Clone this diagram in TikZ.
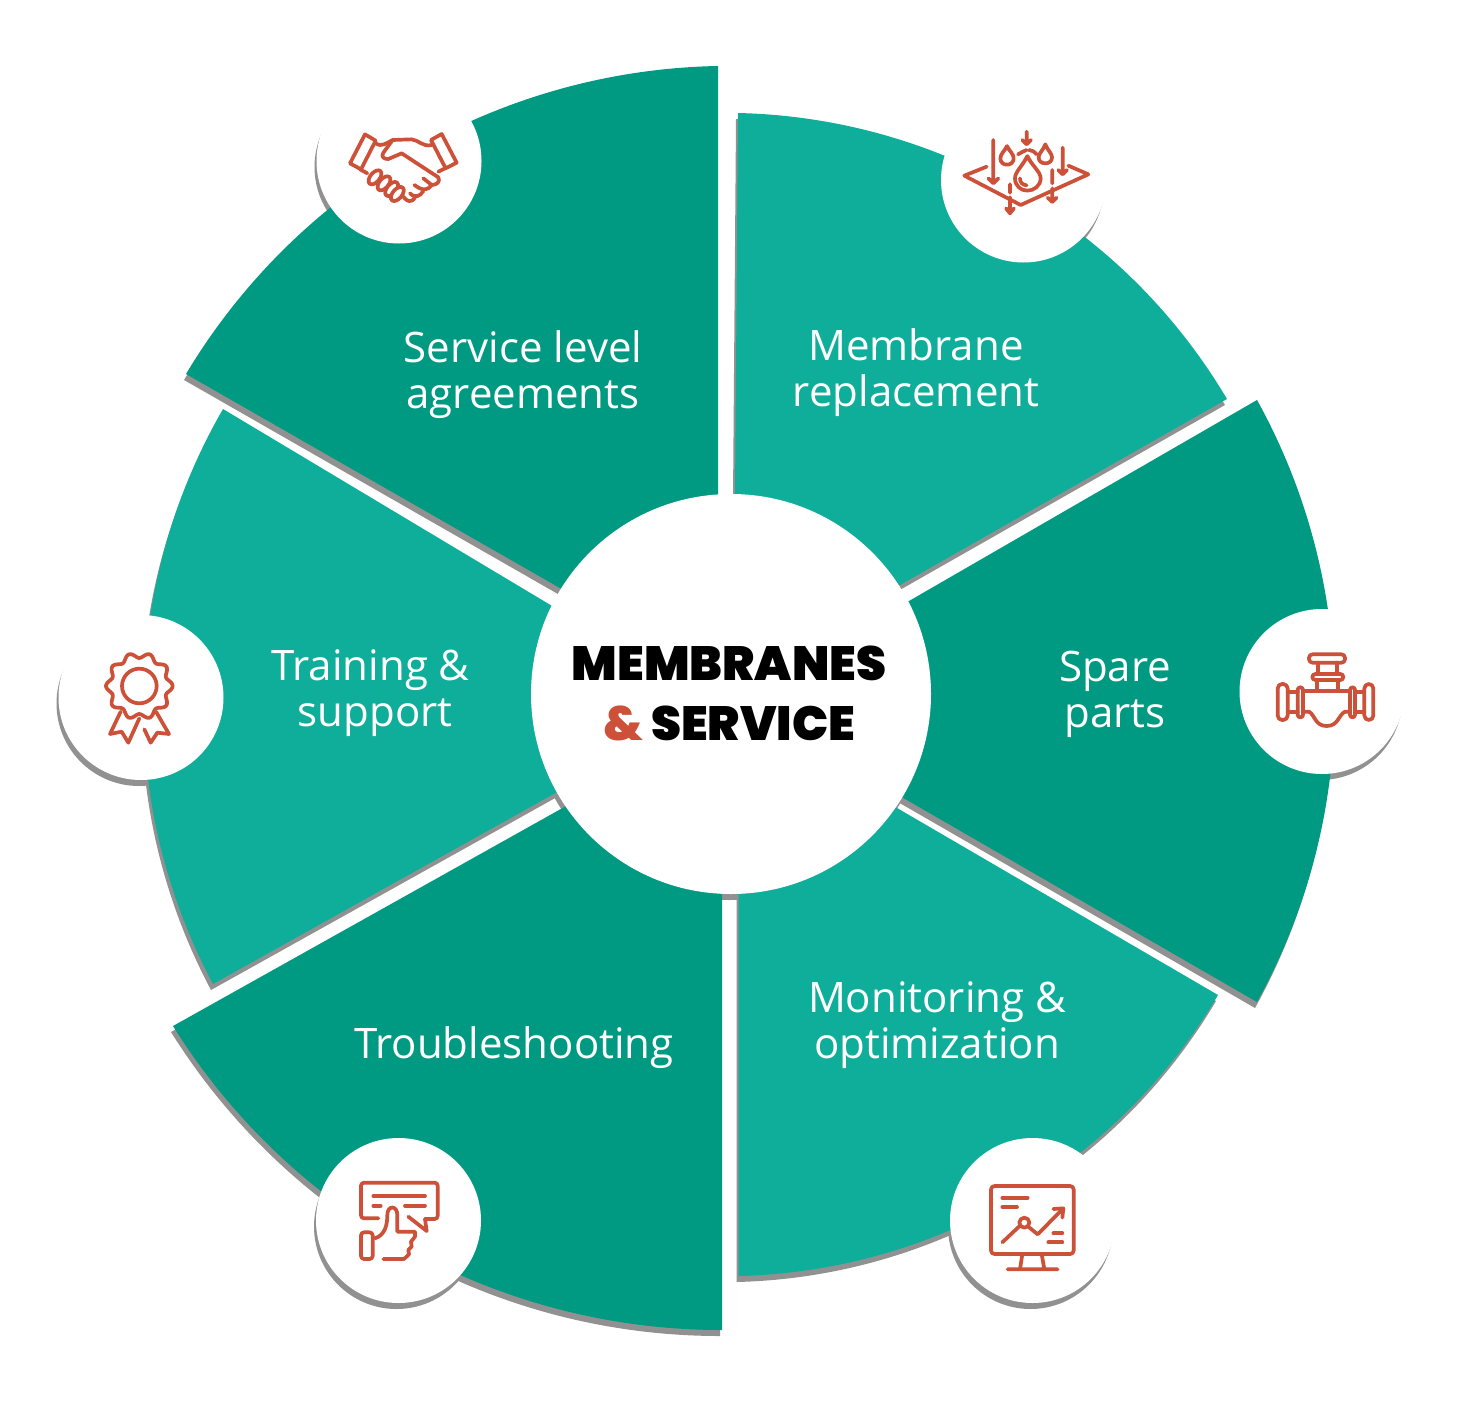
\documentclass[tikz,border=0pt]{standalone}
\usepackage{fontspec}
\setmainfont{Open Sans}
\newfontfamily\heavyfont{Poppins Black}
\definecolor{tealdark}{RGB}{0,153,129}
\definecolor{teallight}{RGB}{15,174,154}
\definecolor{iconred}{RGB}{204,81,56}
\definecolor{shadowgrey}{RGB}{145,145,145}
\tikzset{
  arcedge/.style={bend right=29,looseness=.91},
  shadowfill/.style={fill=shadowgrey,shift={(-2,6)}},
  badge/.style={circle,fill=white,minimum size=165pt,inner sep=0pt},
  badgeshadow/.style={circle,fill=shadowgrey,minimum size=165pt,inner sep=0pt},
  label/.style={text=white,font=\fontsize{42}{46}\selectfont,align=center,inner sep=0pt},
  icon/.style={scale=0.33333,draw=iconred,line width=3.7pt,line cap=round,line join=round},
}
\newcommand\segTR{(735,494) -- (738,113) to[arcedge] (1227,399) -- (887,592.4) -- cycle}
\newcommand\segR{(896,608.5) -- (1257,400) to[arcedge] (1257,1002) -- (889,789.7) -- cycle}
\newcommand\segBR{(884,800.4) -- (1218,995) to[arcedge] (738.5,1276) -- (738.5,880) -- cycle}
\newcommand\segBL{(722,880) -- (722,1330) to[arcedge] (173,1026) -- (576,800.5) -- cycle}
\newcommand\segL{(568,786) -- (213,984) to[arcedge] (223,409) -- (563,612.5) -- cycle}
\newcommand\segTL{(573,595.5) -- (186,374) to[arcedge] (718,66) -- (718,495) -- cycle}
\begin{document}
\begin{tikzpicture}[x=1pt,y=1pt,yscale=-1]
\useasboundingbox (0,0) rectangle (1464,1413);
% shadows
\node[badgeshadow] (sh1) at (397,167) {};
\node[badgeshadow] (sh2) at (1021.5,186) {};
\node[badgeshadow] (sh3) at (1320,697.5) {};
\node[badgeshadow] (sh4) at (139,703.5) {};
\node[badgeshadow] (sh5) at (396.5,1226.5) {};
\node[badgeshadow] (sh6) at (1030.5,1226.5) {};
\node[circle,fill=shadowgrey,minimum size=400pt,inner sep=0pt] (hubshadow) at (729,700) {};
\fill[shadowfill] \segTR;
\fill[shadowfill] \segR;
\fill[shadowfill] \segBR;
\fill[shadowfill] \segBL;
\fill[shadowfill] \segL;
\fill[shadowfill] \segTL;
% segments
\fill[teallight] \segTR;
\fill[tealdark] \segR;
\fill[teallight] \segBR;
\fill[tealdark] \segBL;
\fill[teallight] \segL;
\fill[tealdark] \segTL;
% badges and hub
\node[badge] (b1) at (399,161) {};
\node[badge] (b2) at (1023.5,180) {};
\node[badge] (b3) at (1322,691.5) {};
\node[badge] (b4) at (141,697.5) {};
\node[badge] (b5) at (398.5,1220.5) {};
\node[badge] (b6) at (1032.5,1220.5) {};
\node[circle,fill=white,minimum size=400pt,inner sep=0pt] (hub) at (731,694) {};
% hub text
\node[font=\heavyfont\fontsize{48}{60}\selectfont,align=center,inner sep=0pt] (title) at (729,693) {MEMBRANES\\\textcolor{iconred}{\&} SERVICE};
% labels
\node[label] (l1) at (916,373) {Membrane\\replacement};
\node[label] (l2) at (1115,694) {Spare\\parts};
\node[label] (l3) at (937,1025) {Monitoring \&\\optimization};
\node[label] (l4) at (514,1048) {Troubleshooting};
\node[label] (l5) at (370.5,693) {Training \&\\\hspace*{9pt}support};
\node[label] (l6) at (523,375) {Service level\\agreements};
% icon: droplets on membrane
\begin{scope}[shift={(930,100)},icon]
\draw (170,200)--(103,227)--(272,315)--(475,223)--(415,197);
\draw (190,120)--(190,248) (175,235)--(190,250)--(205,235);
\draw (290,95)--(290,132) (277,120)--(290,133)--(303,120);
\draw (398,143)--(398,222) (385,210)--(398,223)--(411,210);
\draw (240,253)--(240,278) (240,292)--(240,338) (228,325)--(240,340)--(252,325);
\draw (367,210)--(367,250) (367,265)--(367,305) (353,293)--(367,306)--(380,293);
\draw (231,138) .. controls (225,152) and (211,162) .. (211,175) .. controls (211,187) and (220,194) .. (231,194) .. controls (242,194) and (251,187) .. (251,175) .. controls (251,162) and (237,152) .. cycle;
\draw (346,133) .. controls (340,150) and (326,160) .. (326,172) .. controls (326,184) and (335,190) .. (346,190) .. controls (357,190) and (366,184) .. (366,172) .. controls (366,160) and (352,150) .. cycle;
\draw (292,168) .. controls (280,195) and (255,215) .. (255,235) .. controls (255,257) and (272,272) .. (292,272) .. controls (312,272) and (332,257) .. (332,235) .. controls (332,215) and (304,195) .. cycle;
\draw (270,235) .. controls (270,248) and (278,255) .. (290,256);
\draw (264,163) .. controls (275,157) and (283,152) .. (290,150) (297,150) .. controls (305,150) and (313,155) .. (320,163);
\end{scope}
% icon: handshake
\begin{scope}[shift={(310,90)},icon]
\draw (165,133)--(197,152)--(153,238)--(120,220)--cycle;
\draw (395,132)--(363,150)--(407,235)--(440,218)--cycle;
\draw (197,160) .. controls (215,172) and (228,160) .. (248,150) -- (305,148) .. controls (325,150) and (340,172) .. (365,165);
\draw (248,150) -- (220,188) .. controls (212,200) and (222,208) .. (235,207) -- (275,190) -- (385,262) .. controls (392,275) and (380,285) .. (365,285) -- (340,265);
\draw (405,235) -- (385,245) (365,285) .. controls (355,300) and (340,305) .. (313,285);
\draw (340,303) .. controls (330,320) and (315,325) .. (300,310);
\draw (315,322) .. controls (305,340) and (290,335) .. (280,320);
\draw (150,238) -- (172,250);
\foreach \p/\q in {195/262,222/280,245/297,262/312}{
  \draw[shift={(\p,\q)},rotate=-50,fill=white] (0,0) ellipse [x radius=25,y radius=14];
}
\end{scope}
% icon: valve
\begin{scope}[shift={(1235,600)},icon]
\draw[rounded corners=3.5pt] (222,163) rectangle (330,188);
\draw (250,188)--(250,222) (305,188)--(305,222);
\draw[rounded corners=3pt] (232,222) rectangle (325,240);
\draw (245,240)--(245,272) (310,240)--(310,272);
\draw (205,272)--(345,272);
\draw (205,335)--(222,335) .. controls (240,345) and (240,378) .. (275,378) .. controls (310,378) and (310,345) .. (330,335) -- (345,335);
\draw[rounded corners=2.5pt] (188,262) rectangle (204,352);
\draw[rounded corners=2.5pt] (345,262) rectangle (360,352);
\draw[rounded corners=4.5pt] (128,252) rectangle (158,360);
\draw[rounded corners=4.5pt] (388,252) rectangle (415,360);
\draw (158,275)--(188,275) (158,335)--(188,335) (360,275)--(388,275) (360,335)--(388,335);
\end{scope}
% icon: rosette
\begin{scope}[shift={(50,610)},icon]
\draw plot[domain=0:360,samples=140,smooth] ({268+(92+8*cos(10*\x))*cos(\x)},{228+(92+8*cos(10*\x))*sin(\x)}) -- cycle;
\draw (268,228) circle [radius=52];
\draw (212,305)--(180,372)--(215,365)--(235,398)--(268,325);
\draw (318,305)--(357,372)--(322,368)--(302,398)--(283,358);
\end{scope}
% icon: thumbs up
\begin{scope}[shift={(310,1135)},icon]
\draw[rounded corners=3pt] (205,250)--(153,250)--(153,143)--(383,143)--(383,252)--(345,252);
\draw (345,252)--(350,288)--(295,245);
\draw (190,183)--(345,183) (190,212)--(212,212) (285,212)--(345,212);
\draw (195,310) .. controls (225,300) and (232,270) .. (232,240) .. controls (232,210) and (262,210) .. (262,240) -- (262,290) -- (315,290) -- (315,305) -- (303,320) -- (305,335) -- (295,345) -- (297,358) -- (282,372) -- (220,372);
\draw[rounded corners=3pt] (153,292) rectangle (188,372);
\end{scope}
% icon: chart on a monitor
\begin{scope}[shift={(945,1135)},icon]
\draw[rounded corners=3.5pt] (138,153) rectangle (386,357);
\draw (232,357) -- (225,403) (290,357) -- (298,403) (188,403)--(338,403);
\draw (172,188)--(248,188) (172,216)--(216,216) (325,295)--(352,295) (310,322)--(352,322);
\draw (172,322)--(225,272) (238,263) circle [radius=15];
\draw (250,275)--(278,298)--(350,225);
\draw (325,222)--(355,220)--(352,248);
\end{scope}
\end{tikzpicture}
\end{document}
